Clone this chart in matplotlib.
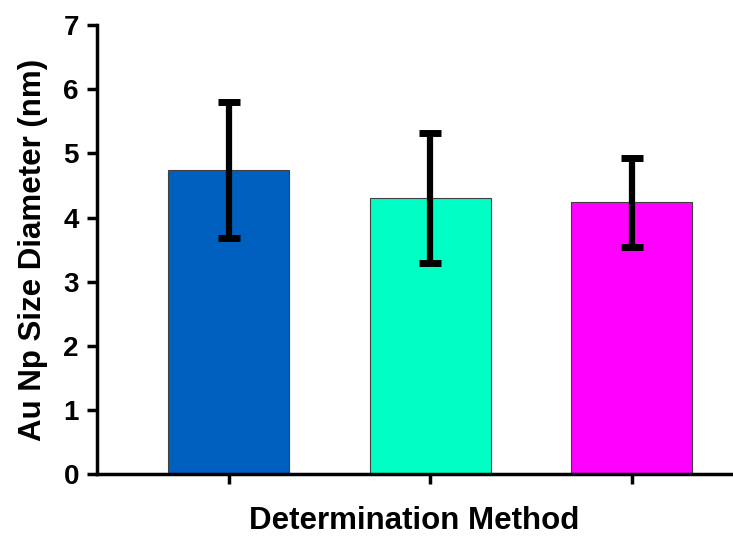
import matplotlib.pyplot as plt

plt.rcParams['font.family'] = ['Liberation Sans', 'DejaVu Sans']
plt.rcParams['font.weight'] = 'bold'

# Au nanoparticle diameter from three methods (nm)
methods = ['Method 1', 'Method 2', 'Method 3']
diameters = [4.74, 4.31, 4.24]
errors = [1.06, 1.01, 0.69]
colors = ['#0060BF', '#00FFC4', '#FF00FF']

fig = plt.figure(figsize=(7.33, 5.37), dpi=100)
ax = fig.add_axes([0.1323, 0.1164, 0.8667, 0.837])

x = range(len(methods))
ax.bar(x, diameters, width=0.6, color=colors, edgecolor='#404040', linewidth=0.8, zorder=2)
eb = ax.errorbar(x, diameters, yerr=errors, fmt='none', ecolor='black', elinewidth=4.5,
                 capsize=8, capthick=5, zorder=3)
for cap in eb[1]:
    cap.set_solid_capstyle('round')

ax.set_xlim(-0.654, 2.5)
ax.set_ylim(0, 7)
ax.set_yticks(range(0, 8))
ax.set_xticks(list(x))
ax.set_xticklabels([])

for side in ['top', 'right']:
    ax.spines[side].set_visible(False)
for side in ['left', 'bottom']:
    ax.spines[side].set_linewidth(2.5)

ax.tick_params(axis='y', direction='out', length=7, width=2.5, labelsize=20, pad=6)
ax.tick_params(axis='x', direction='out', length=7, width=2.5)
for lbl in ax.get_yticklabels():
    lbl.set_fontweight('bold')

ax.set_ylabel('Au Np Size Diameter (nm)', fontsize=22.5, fontweight='bold', labelpad=11)
ax.set_xlabel('Determination Method', fontsize=22.5, fontweight='bold', labelpad=12)

fig.savefig('out.png', dpi=100)
